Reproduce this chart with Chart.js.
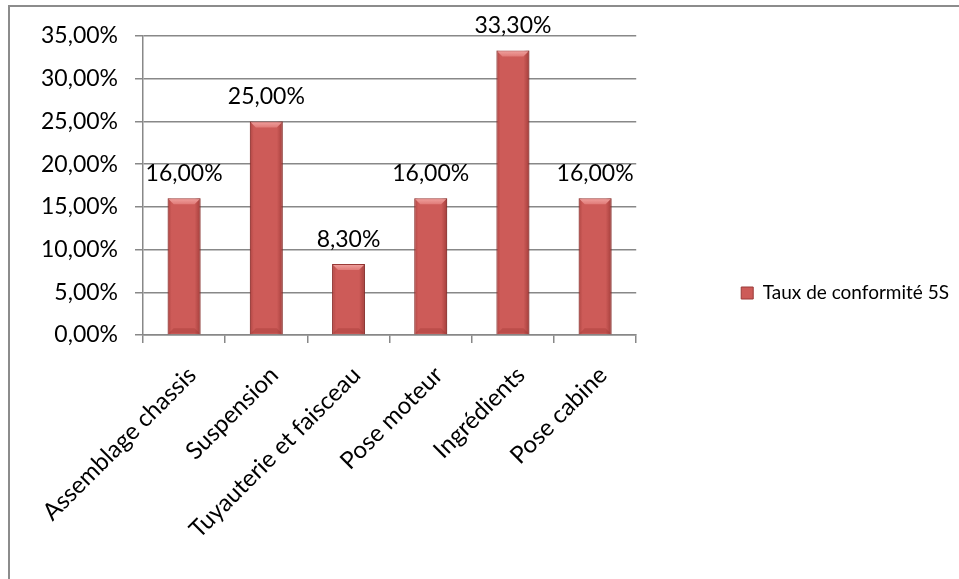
<!DOCTYPE html>
<html>
<head>
<meta charset="utf-8">
<script src="https://cdn.jsdelivr.net/npm/chart.js@4"></script>
<style>
  html, body { margin: 0; padding: 0; background: #fff; }
  #wrap { position: relative; width: 959px; height: 579px; overflow: hidden; }
  #frame { position: absolute; left: 8px; top: 5px; width: 2000px; height: 2000px;
           border-left: 2px solid #8c8c8c; border-top: 2px solid #8c8c8c; }
  canvas { position: absolute; left: 0; top: 0; }
</style>
</head>
<body>
<div id="wrap">
  <div id="frame"></div>
  <canvas id="myChart" width="959" height="579"></canvas>
</div>
<script>
const categories = ['Assemblage chassis', 'Suspension', 'Tuyauterie et faisceau', 'Pose moteur', 'Ingrédients', 'Pose cabine'];
const tauxValues = [16, 25, 8.3, 16, 33.3, 16];
const seriesName = 'Taux de conformité 5S';
const yTickValues = [0, 5, 10, 15, 20, 25, 30, 35];

const FONT = 'Lato';
const pct = v => v.toFixed(2).replace('.', ',') + '%';

// value labels above each bar
const barLabels = {
  id: 'barLabels',
  afterDatasetsDraw(chart) {
    const ctx = chart.ctx;
    const meta = chart.getDatasetMeta(0);
    ctx.save();
    ctx.font = `23px ${FONT}`;
    ctx.fillStyle = '#000';
    ctx.textAlign = 'center';
    ctx.textBaseline = 'middle';
    meta.data.forEach((bar, i) => {
      ctx.fillText(pct(chart.data.datasets[0].data[i]), bar.x, bar.y - 25);
    });
    ctx.restore();
  }
};

// bevel shading on the bars
const barBevel = {
  id: 'barBevel',
  afterDatasetDraw(chart, args) {
    const ctx = chart.ctx;
    const meta = chart.getDatasetMeta(args.index);
    ctx.save();
    meta.data.forEach(bar => {
      const l = bar.x - bar.width / 2, r = bar.x + bar.width / 2;
      const t = bar.y, b = bar.base, d = 6;
      const g = ctx.createLinearGradient(l, 0, r, 0);
      g.addColorStop(0, 'rgba(120,30,28,0.35)');
      g.addColorStop(0.12, 'rgba(120,30,28,0)');
      g.addColorStop(0.82, 'rgba(120,30,28,0)');
      g.addColorStop(1, 'rgba(110,25,22,0.45)');
      ctx.fillStyle = g;
      ctx.fillRect(l, t, r - l, b - t);
      // top cap
      const tg = ctx.createLinearGradient(0, t, 0, t + d);
      tg.addColorStop(0, '#f0a3a0');
      tg.addColorStop(1, '#e07a77');
      ctx.fillStyle = tg;
      ctx.beginPath();
      ctx.moveTo(l + 1, t + 1);
      ctx.lineTo(r - 1, t + 1);
      ctx.lineTo(r - d, t + d);
      ctx.lineTo(l + d, t + d);
      ctx.closePath();
      ctx.fill();
      // bottom cap
      ctx.fillStyle = 'rgba(150,45,42,0.3)';
      ctx.beginPath();
      ctx.moveTo(l + 1, b - 1);
      ctx.lineTo(r - 1, b - 1);
      ctx.lineTo(r - d, b - d);
      ctx.lineTo(l + d, b - d);
      ctx.closePath();
      ctx.fill();
    });
    ctx.restore();
  }
};

const ctx = document.getElementById('myChart').getContext('2d');
new Chart(ctx, {
  type: 'bar',
  data: {
    labels: categories,
    datasets: [{
      label: seriesName,
      data: tauxValues,
      backgroundColor: '#cd5b58',
      borderColor: '#9a3b38',
      borderWidth: 1,
      barPercentage: 0.4,
      categoryPercentage: 1,
    }],
  },
  options: {
    responsive: false,
    animation: false,
    layout: { padding: { left: 0, top: 36, right: 0, bottom: 29 } },
    plugins: {
      tooltip: { enabled: false },
      legend: {
        position: 'right',
        maxWidth: 400,
        labels: {
          font: { family: FONT, size: 19 },
          color: '#000',
          boxWidth: 12,
          boxHeight: 12,
          padding: 105,
          generateLabels: chart => [{
            text: seriesName,
            fillStyle: '#cd5b58',
            strokeStyle: '#9a3b38',
            lineWidth: 1,
            datasetIndex: 0,
          }],
        },
      },
    },
    scales: {
      x: {
        afterFit: s => { s.height = 215; },
        grid: { drawOnChartArea: false, drawTicks: true, tickLength: 8, offset: true, color: '#888', lineWidth: 1.5 },
        border: { color: '#888', width: 1.5 },
        ticks: {
          font: { family: FONT, size: 24 },
          color: '#000',
          minRotation: 45,
          maxRotation: 45,
          autoSkip: false,
          padding: 18,
          labelOffset: 8,
        },
      },
      y: {
        min: 0,
        max: 35,
        afterFit: s => { s.width = 143; },
        afterBuildTicks: s => { s.ticks = yTickValues.map(v => ({ value: v })); },
        grid: { color: '#888', lineWidth: 1.5, tickLength: 8 },
        border: { color: '#888', width: 1.5 },
        ticks: {
          font: { family: FONT, size: 23 },
          color: '#000',
          padding: 17,
          callback: v => pct(v),
        },
      },
    },
  },
  plugins: [barBevel, barLabels],
});
</script>
</body>
</html>
